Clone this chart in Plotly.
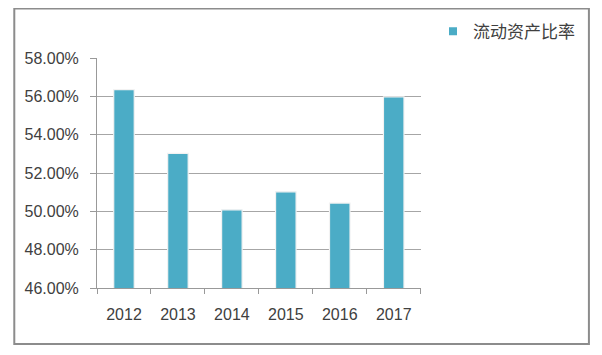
import plotly.graph_objects as go

years = ["2012", "2013", "2014", "2015", "2016", "2017"]
ratio = [56.35, 53.02, 50.08, 51.02, 50.43, 55.97]
series_name = "流动资产比率"
y_ticks = [46, 48, 50, 52, 54, 56, 58]
y_tick_text = ["46.00%", "48.00%", "50.00%", "52.00%", "54.00%", "56.00%", "58.00%"]

OFF = 8  # page body margin offset
W, H = 602 - 2 * OFF, 355 - 2 * OFF
L, R, T, B = 96.7 - OFF, 422.3 - OFF, 58.4 - OFF, 288.5 - OFF
pw, ph = R - L, B - T

def px(x):
    return (x - OFF - L) / pw

def py(y):
    return (B - (y - OFF)) / ph

bar_color = "#4BACC6"
text_color = "#404040"

fig = go.Figure()
fig.add_trace(go.Bar(
    x=years, y=ratio, name=series_name, showlegend=False,
    marker=dict(color=bar_color, line=dict(color="#f2f2f2", width=1.2)),
))
fig.add_trace(go.Scatter(
    x=[None], y=[None], mode="markers", name=series_name,
    marker=dict(symbol="square", size=8, color=bar_color),
))

fig.update_layout(
    width=W, height=H,
    margin=dict(l=L, r=W - R, t=T, b=H - B),
    paper_bgcolor="white", plot_bgcolor="white",
    bargap=0.62,
    font=dict(family="Liberation Sans, Arial, sans-serif", size=16, color=text_color),
    legend=dict(
        xref="container", yref="container",
        x=(433 - OFF) / W, y=1 - (31.7 - OFF) / H, xanchor="left", yanchor="middle",
        font=dict(family="Noto Sans CJK SC", size=17, color=text_color),
        bgcolor="rgba(0,0,0,0)", itemwidth=30,
    ),
    xaxis=dict(
        type="category", showgrid=False, showline=True, linecolor="#999999", linewidth=1,
        ticks="outside", tickson="boundaries", ticklen=5, tickcolor="#999999",
        tickfont=dict(size=16, color=text_color), fixedrange=True,
        ticklabelstandoff=12,
    ),
    yaxis=dict(
        range=[46, 58], tickvals=y_ticks, ticktext=y_tick_text,
        showgrid=True, gridcolor="#a6a6a6", gridwidth=1,
        showline=True, linecolor="#999999", linewidth=1,
        ticks="outside", ticklen=6, tickcolor="#999999",
        tickfont=dict(size=16, color=text_color), zeroline=False,
        ticklabelstandoff=8,
    ),
    shapes=[dict(
        type="rect", xref="paper", yref="paper",
        x0=px(13.5), x1=px(591.5), y0=py(344.5), y1=(B - 1) / ph,
        line=dict(color="#8c8c8c", width=2), fillcolor="rgba(0,0,0,0)", layer="below",
    )],
)

fig.write_html("out.html")
